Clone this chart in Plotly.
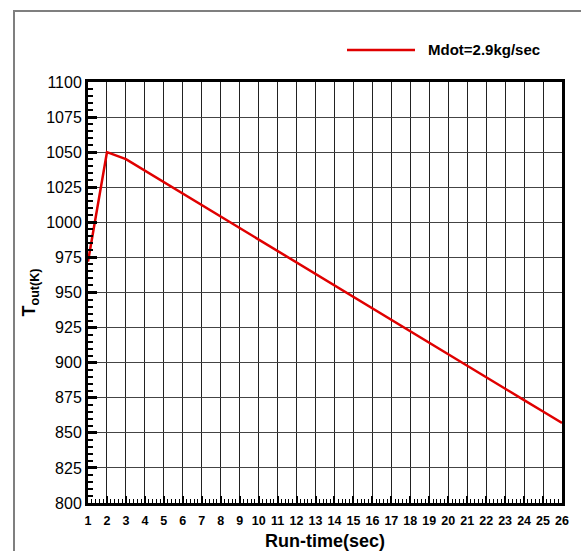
import plotly.graph_objects as go

run_time = list(range(1, 27))
t_out = [972.0, 1050.0, 1045.0, 1036.8, 1028.7, 1020.5, 1012.3, 1004.1, 996.0, 987.8,
         979.6, 971.4, 963.3, 955.1, 946.9, 938.7, 930.6, 922.4, 914.2, 906.0,
         897.9, 889.7, 881.5, 873.3, 865.2, 857.0]
series_name = "Mdot=2.9kg/sec"
x_ticks = list(range(1, 27))
y_ticks = list(range(800, 1101, 25))

fig = go.Figure()
fig.add_trace(go.Scatter(x=run_time, y=t_out, mode="lines",
                         line=dict(color="#e00000", width=2.5), showlegend=False))

L, R, T, B = 88, 562, 82, 503
W, H = 581, 551
def px(x):
    return (x - L) / (R - L)
def py(y):
    return (B - y) / (B - T)

fig.update_layout(
    width=W, height=H,
    margin=dict(l=L, r=W - R, t=T, b=H - B, autoexpand=False),
    paper_bgcolor="white", plot_bgcolor="white",
    font=dict(family="Liberation Sans, Arial", color="black"),
    shapes=[
        dict(type="path", xref="paper", yref="paper",
             path=f"M {px(14)} {py(560)} L {px(14)} {py(11)} L {px(600)} {py(11)}",
             line=dict(color="#7f7f7f", width=2)),
        dict(type="line", xref="paper", yref="paper",
             x0=px(347), x1=px(415), y0=py(50), y1=py(50),
             line=dict(color="#e00000", width=2.5)),
    ],
    annotations=[
        dict(xref="paper", yref="paper", x=px(426), y=py(50), xanchor="left", yanchor="middle",
             text=f"<b>{series_name}</b>", showarrow=False, font=dict(size=15)),
    ],
)

fig.update_xaxes(
    range=[1, 26], tickvals=x_ticks, ticktext=[str(v) for v in x_ticks],
    tickfont=dict(size=12.5, weight="bold"),
    ticklabelstandoff=4, automargin=False,
    ticks="inside", ticklen=7, tickwidth=2, tickcolor="black",
    minor=dict(ticks="inside", ticklen=4, tickwidth=1, tickcolor="black", dtick=0.2, showgrid=False),
    showgrid=True, gridcolor="#222222", gridwidth=1,
    showline=True, linecolor="black", linewidth=3, mirror=True,
    zeroline=False,
    title=dict(text="<b>Run-time(sec)</b>", font=dict(size=18), standoff=10),
)
fig.update_yaxes(
    range=[800, 1100], tickvals=y_ticks, automargin=False,
    tickfont=dict(size=16),
    ticks="inside", ticklen=9, tickwidth=2.5, tickcolor="black",
    minor=dict(ticks="inside", ticklen=5, tickwidth=1.5, tickcolor="black", dtick=5, showgrid=False),
    showgrid=True, gridcolor="#444444", gridwidth=1,
    showline=True, linecolor="black", linewidth=3, mirror=True,
    zeroline=False,
    title=dict(text="<b>T<sub>out(K)</sub></b>", font=dict(size=18), standoff=6),
)

fig.write_html("out.html", config={"displayModeBar": False},
               post_script="document.body.style.margin='0';document.body.style.overflow='hidden';")
